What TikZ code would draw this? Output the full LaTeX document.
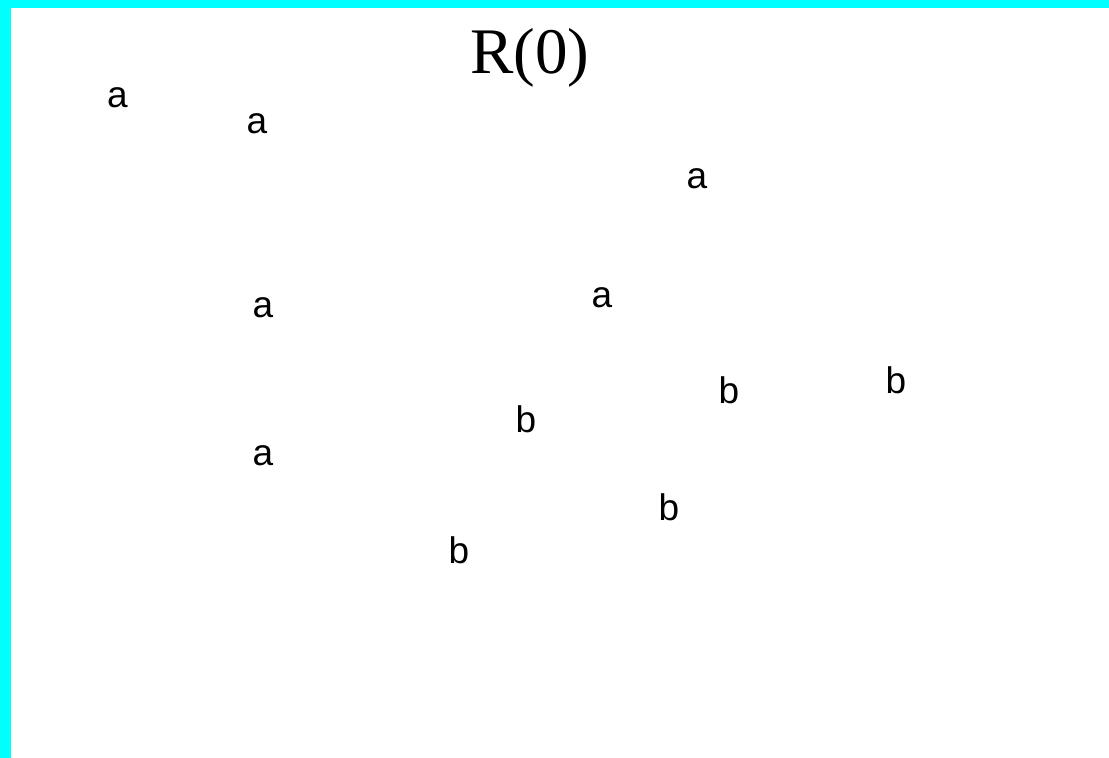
\documentclass[tikz,border=0pt]{standalone}
\usepackage{fontspec}
\setmainfont{Liberation Serif}
\newfontfamily\lblfont{Liberation Sans}
\definecolor{aquaband}{RGB}{0,255,255}
\begin{document}
\begin{tikzpicture}[x=1pt,y=-1pt,
  lbl/.style={anchor=base,inner sep=0pt,font=\lblfont\fontsize{37}{37}\selectfont},
  ttl/.style={anchor=base,inner sep=0pt,font=\fontsize{65}{65}\selectfont}]
\useasboundingbox (0,0) rectangle (1109,758);
\fill[white] (0,0) rectangle (1109,758);
\fill[aquaband] (0,0) rectangle (1109,8);
\fill[aquaband] (0,0) rectangle (11,758);
\node[ttl] (title) at (530,73) {R(0)};
\node[lbl] (a1) at (117.5,107) {a};
\node[lbl] (a2) at (257,133) {a};
\node[lbl] (a3) at (697,188) {a};
\node[lbl] (a4) at (263,317) {a};
\node[lbl] (a5) at (602,307) {a};
\node[lbl] (a6) at (263,465) {a};
\node[lbl] (b1) at (729,403) {b};
\node[lbl] (b2) at (896,393) {b};
\node[lbl] (b3) at (526,432) {b};
\node[lbl] (b4) at (669,520) {b};
\node[lbl] (b5) at (459,563) {b};
\end{tikzpicture}
\end{document}
